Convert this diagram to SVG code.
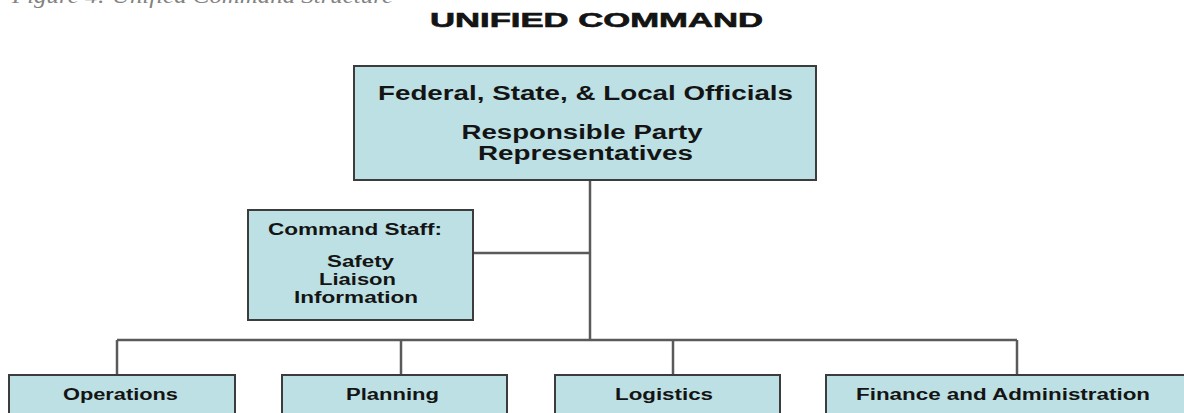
<svg xmlns="http://www.w3.org/2000/svg" width="1184" height="413" viewBox="0 0 1184 413">
  <style>
    .box { fill: #bce0e3; stroke: #3c3c3c; stroke-width: 2; }
    .lbl { font-family: "Liberation Sans", Arial, sans-serif; font-weight: bold; fill: #141414; text-anchor: middle; }
    .big { font-size: 19.5px; }
    .small { font-size: 16px; }
    .heavy { stroke: #141414; stroke-width: 0.6; }
    .wire { stroke: #5a5a5a; stroke-width: 2.5; fill: none; }
  </style>
  <rect width="1184" height="413" fill="#ffffff"/>

  <!-- figure caption, clipped at the top edge -->
  <text x="12" y="3" font-family="'Liberation Serif', 'Times New Roman', serif" font-style="italic" font-size="22" fill="#828282" textLength="381" lengthAdjust="spacingAndGlyphs">Figure 4: Unified Command Structure</text>

  <!-- heading -->
  <text class="lbl big heavy" x="596.5" y="27" textLength="333" lengthAdjust="spacingAndGlyphs">UNIFIED COMMAND</text>

  <!-- connectors -->
  <g id="connectors">
    <line class="wire" x1="590" y1="180" x2="590" y2="340"/>
    <line class="wire" x1="473" y1="253" x2="590" y2="253"/>
    <line class="wire" x1="117" y1="340" x2="1017" y2="340"/>
    <line class="wire" x1="117" y1="340" x2="117" y2="375"/>
    <line class="wire" x1="401" y1="340" x2="401" y2="375"/>
    <line class="wire" x1="673" y1="340" x2="673" y2="375"/>
    <line class="wire" x1="1017" y1="340" x2="1017" y2="375"/>
  </g>

  <g id="unified-command">
    <rect class="box" x="354" y="66" width="462" height="114"/>
    <text class="lbl big" x="585.5" y="100" textLength="415" lengthAdjust="spacingAndGlyphs">Federal, State, &amp; Local Officials</text>
    <text class="lbl big" x="582" y="139" textLength="241" lengthAdjust="spacingAndGlyphs">Responsible Party</text>
    <text class="lbl big" x="585.5" y="160" textLength="215" lengthAdjust="spacingAndGlyphs">Representatives</text>
  </g>

  <g id="command-staff">
    <rect class="box" x="248" y="210" width="225" height="110"/>
    <text class="lbl small" x="355" y="235" textLength="174" lengthAdjust="spacingAndGlyphs">Command Staff:</text>
    <text class="lbl small" x="360.5" y="267" textLength="67" lengthAdjust="spacingAndGlyphs">Safety</text>
    <text class="lbl small" x="357.5" y="285" textLength="77" lengthAdjust="spacingAndGlyphs">Liaison</text>
    <text class="lbl small" x="356" y="303" textLength="124" lengthAdjust="spacingAndGlyphs">Information</text>
  </g>

  <g id="operations">
    <rect class="box" x="9" y="375" width="226" height="60"/>
    <text class="lbl small" x="120.5" y="400" textLength="115" lengthAdjust="spacingAndGlyphs">Operations</text>
  </g>

  <g id="planning">
    <rect class="box" x="282" y="375" width="225" height="60"/>
    <text class="lbl small" x="392.5" y="400" textLength="93" lengthAdjust="spacingAndGlyphs">Planning</text>
  </g>

  <g id="logistics">
    <rect class="box" x="555" y="375" width="225" height="60"/>
    <text class="lbl small" x="664" y="400" textLength="98" lengthAdjust="spacingAndGlyphs">Logistics</text>
  </g>

  <g id="finance-administration">
    <rect class="box" x="826" y="375" width="380" height="60"/>
    <text class="lbl small" x="1003" y="400" textLength="294" lengthAdjust="spacingAndGlyphs">Finance and Administration</text>
  </g>
</svg>
